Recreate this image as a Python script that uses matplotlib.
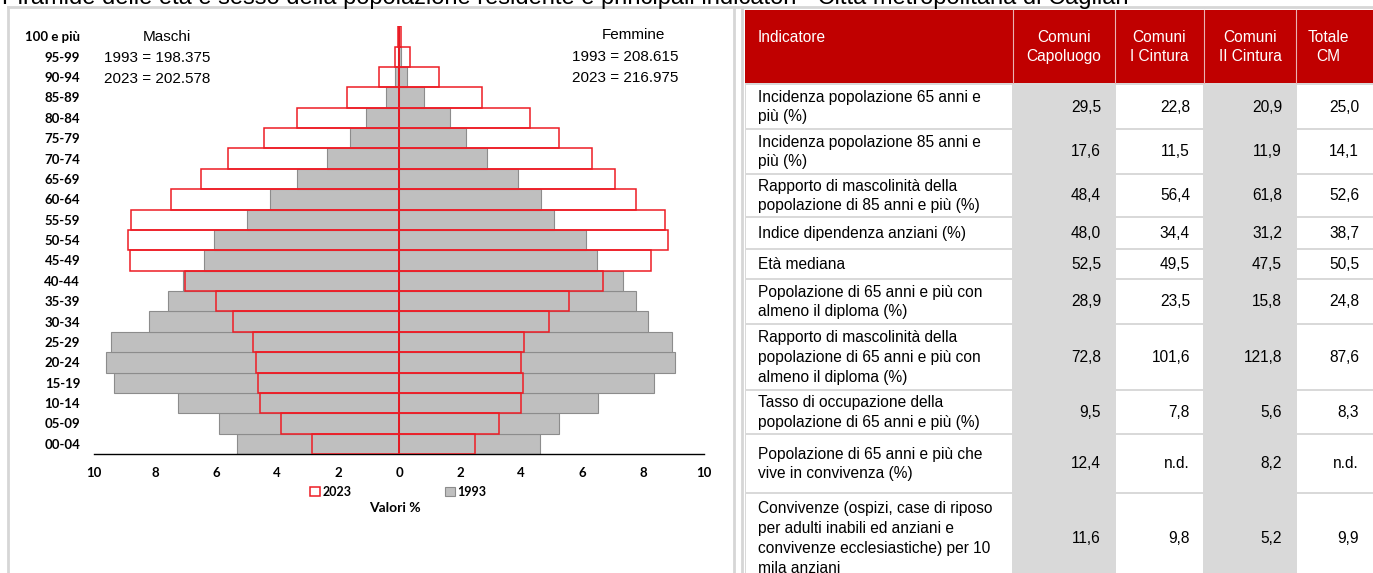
import numpy as np
import matplotlib
matplotlib.use("Agg")
import matplotlib.pyplot as plt
from matplotlib.patches import Rectangle

# Pyramid data (% of population by age class)
age_classes = ["00-04", "05-09", "10-14", "15-19", "20-24", "25-29", "30-34", "35-39",
               "40-44", "45-49", "50-54", "55-59", "60-64", "65-69", "70-74", "75-79",
               "80-84", "85-89", "90-94", "95-99", "100 e più"]
males_2023 = [2.85, 3.88, 4.57, 4.62, 4.68, 4.79, 5.44, 5.99, 7.02, 8.81, 8.90, 8.79,
              7.46, 6.49, 5.61, 4.44, 3.33, 1.72, 0.66, 0.12, 0.03]
males_1993 = [5.31, 5.90, 7.25, 9.34, 9.62, 9.43, 8.20, 7.57, 7.08, 6.39, 6.07, 4.97,
              4.22, 3.33, 2.36, 1.62, 1.07, 0.41, 0.12, 0.04, 0.01]
females_2023 = [2.49, 3.28, 4.00, 4.05, 4.00, 4.10, 4.91, 5.56, 6.69, 8.26, 8.81, 8.73,
                7.78, 7.08, 6.33, 5.24, 4.29, 2.71, 1.31, 0.35, 0.05]
females_1993 = [4.61, 5.23, 6.54, 8.37, 9.05, 8.95, 8.16, 7.78, 7.34, 6.49, 6.12, 5.09,
                4.64, 3.91, 2.90, 2.20, 1.66, 0.82, 0.26, 0.07, 0.01]

males_tot = {"1993": "198.375", "2023": "202.578"}
females_tot = {"1993": "208.615", "2023": "216.975"}

# Table data
header = ["Indicatore", "Comuni\nCapoluogo", "Comuni\nI Cintura", "Comuni\nII Cintura", "Totale\nCM"]
indicators = [
    "Incidenza popolazione 65 anni e\npiù (%)",
    "Incidenza popolazione 85 anni e\npiù (%)",
    "Rapporto di mascolinità della\npopolazione di 85 anni e più (%)",
    "Indice dipendenza anziani (%)",
    "Età mediana",
    "Popolazione di 65 anni e più con\nalmeno il diploma (%)",
    "Rapporto di mascolinità della\npopolazione di 65 anni e più con\nalmeno il diploma (%)",
    "Tasso di occupazione della\npopolazione di 65 anni e più (%)",
    "Popolazione di 65 anni e più che\nvive in convivenza (%)",
    "Convivenze (ospizi, case di riposo\nper adulti inabili ed anziani e\nconvivenze ecclesiastiche) per 10\nmila anziani",
]
capoluogo = [29.5, 17.6, 48.4, 48.0, 52.5, 28.9, 72.8, 9.5, 12.4, 11.6]
cintura_1 = [22.8, 11.5, 56.4, 34.4, 49.5, 23.5, 101.6, 7.8, None, 9.8]
cintura_2 = [20.9, 11.9, 61.8, 31.2, 47.5, 15.8, 121.8, 5.6, 8.2, 5.2]
totale_cm = [25.0, 14.1, 52.6, 38.7, 50.5, 24.8, 87.6, 8.3, None, 9.9]

title = ("Piramide delle età e sesso della popolazione residente e principali indicatori"
         " - Città metropolitana di Cagliari")

W, H = 1373, 573
narrow = ["Liberation Sans", "DejaVu Sans"]
boldfont = ["Lato", "DejaVu Sans"]
tsize = 11.2


def fmt(v):
    return "n.d." if v is None else f"{v:.1f}".replace(".", ",")


fig = plt.figure(figsize=(W / 100, H / 100), dpi=100)

# background layer in pixel coordinates
bg = fig.add_axes([0, 0, 1, 1])
bg.set_xlim(0, W)
bg.set_ylim(H, 0)
bg.axis("off")

grid_col = "#d6d6d6"
bg.plot([8, W], [7, 7], color=grid_col, lw=2)
for gx in (8, 733.5, 742):
    bg.plot([gx, gx], [7, H], color=grid_col, lw=2)

bg.text(2, 4, title, fontsize=17, family=["Liberation Sans", "DejaVu Sans"],
        va="baseline", ha="left")

# pyramid annotations
bg.text(167, 37, "Maschi", family=narrow, fontsize=11, ha="center", va="center")
bg.text(157, 58, f"1993 = {males_tot['1993']}", family=narrow, fontsize=11, ha="center", va="center")
bg.text(157, 79, f"2023 = {males_tot['2023']}", family=narrow, fontsize=11, ha="center", va="center")
bg.text(633, 35, "Femmine", family=narrow, fontsize=11, ha="center", va="center")
bg.text(625, 57, f"1993 = {females_tot['1993']}", family=narrow, fontsize=11, ha="center", va="center")
bg.text(625, 78, f"2023 = {females_tot['2023']}", family=narrow, fontsize=11, ha="center", va="center")
bg.text(395, 508, "Valori %", family=boldfont, fontweight="bold", fontsize=10, ha="center", va="center")

# ---- table ----
red = "#c00000"
col_edges = [745, 1013, 1115, 1204, 1296, 1380]
row_edges = [(85, 128), (130, 173), (175, 216), (218, 248), (250, 278),
             (280, 323), (325, 389), (391, 433), (435, 492), (494, 582)]
bg.add_patch(Rectangle((745, 10), W - 745 + 10, 73, facecolor=red, edgecolor="none"))
for cx in col_edges[1:-1]:
    bg.plot([cx, cx], [10, 83], color="#e9b3b3", lw=0.8)
bg.add_patch(Rectangle((745, 83), W - 745 + 10, H - 83, facecolor="#d9d9d9", edgecolor="none"))

bg.text(758, 37, header[0], color="white", family=narrow, fontsize=tsize, ha="left", va="center")
for j in range(1, 5):
    xc = (col_edges[j] + col_edges[j + 1]) / 2
    if j == 4:
        xc = 1328
    bg.text(xc, 47, header[j], color="white", family=narrow, fontsize=tsize, ha="center",
            va="center", linespacing=1.4)

columns = [capoluogo, cintura_1, cintura_2, totale_cm]
for i, (y0, y1) in enumerate(row_edges):
    for j in (0, 2, 4):
        bg.add_patch(Rectangle((col_edges[j] + 1, y0), col_edges[j + 1] - col_edges[j] - 2,
                               y1 - y0, facecolor="white", edgecolor="none"))
    yc = (y0 + y1) / 2 + 0.5
    bg.text(758, yc, indicators[i], family=narrow, fontsize=tsize, ha="left", va="center",
            linespacing=1.4)
    for j, col in enumerate(columns):
        xr = col_edges[j + 2] - 14
        if j == 3:
            xr = 1359
        bg.text(xr, yc, fmt(col[i]), family=narrow, fontsize=tsize, ha="right", va="center")

# ---- pyramid ----
ax = fig.add_axes([94 / W, 1 - 454 / H, 610 / W, (454 - 26.2) / H])
ax.patch.set_alpha(0)
y = np.arange(len(age_classes))
g1 = ax.barh(y, -np.array(males_1993), height=1.0, color="#bfbfbf", edgecolor="#8c8c8c",
             linewidth=0.8, label="1993", zorder=1)
ax.barh(y, females_1993, height=1.0, color="#bfbfbf", edgecolor="#8c8c8c", linewidth=0.8, zorder=1)
r1 = ax.barh(y, -np.array(males_2023), height=1.0, fill=False, edgecolor="#ee1c25",
             linewidth=1.1, label="2023", zorder=3)
ax.barh(y, females_2023, height=1.0, fill=False, edgecolor="#ee1c25", linewidth=1.1, zorder=3)
ax.axvline(0, color="black", lw=1.2, zorder=2)

ax.set_xlim(-10, 10)
ax.set_ylim(-0.5, 20.5)
ticks = np.arange(-10, 11, 2)
ax.set_xticks(ticks)
ax.set_xticklabels([str(abs(t)) for t in ticks])
ax.set_yticks(y)
ax.set_yticklabels(age_classes)
ax.tick_params(length=0)
ax.tick_params(axis="y", pad=10)
ax.tick_params(axis="x", pad=9.5)
for lab in ax.get_xticklabels() + ax.get_yticklabels():
    lab.set_family(boldfont)
    lab.set_fontweight("bold")
    lab.set_fontsize(9.5)
for s in ("top", "right", "left"):
    ax.spines[s].set_visible(False)
ax.spines["bottom"].set_color("black")
ax.spines["bottom"].set_linewidth(1.0)

leg = ax.legend([r1, g1], ["2023", "1993"], loc="center", ncol=2, frameon=False,
                bbox_to_anchor=(398 / W, 1 - 492 / H), bbox_transform=fig.transFigure,
                handlelength=0.8, handleheight=0.8, handletextpad=0.2, columnspacing=7.5,
                borderpad=0, prop={"family": boldfont, "weight": "bold", "size": 9})

fig.savefig("out.png", dpi=100)
